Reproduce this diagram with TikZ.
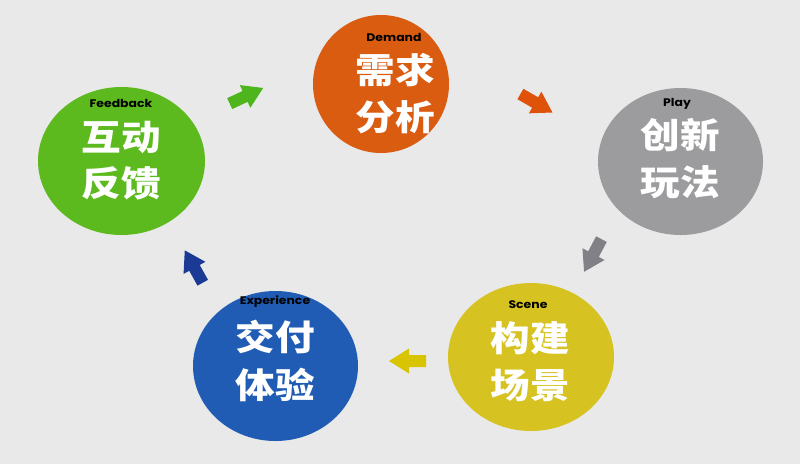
\documentclass[tikz,border=0pt]{standalone}
\usepackage{fontspec}
\newfontfamily\cjk{Noto Sans CJK SC}
\newfontfamily\enfont{Poppins}
\usetikzlibrary{shapes.geometric}
\definecolor{bgc}{RGB}{233,233,233}
\definecolor{cgreen}{RGB}{92,186,30}
\definecolor{corange}{RGB}{217,92,16}
\definecolor{cgray}{RGB}{156,156,159}
\definecolor{cyellow}{RGB}{214,194,32}
\definecolor{cblue}{RGB}{32,92,180}
\definecolor{agreen}{RGB}{78,182,28}
\definecolor{aorange}{RGB}{222,82,10}
\definecolor{agray}{RGB}{128,128,134}
\definecolor{ayellow}{RGB}{216,196,0}
\definecolor{ablue}{RGB}{26,58,150}
\tikzset{
  blob/.style={ellipse, inner sep=0pt, draw=none},
  entitle/.style={inner sep=0pt, font=\enfont\bfseries\fontsize{11}{11}\selectfont, text=black},
  cn/.style={inner sep=0pt, font=\cjk\bfseries\fontsize{35}{35}\selectfont, text=white}
}
\newcommand{\wx}[1]{\scalebox{1.13}[1]{#1}}
\newcommand{\fatarrow}[3]{% name, angle, colour
  \fill[#3, shift={(#1)}, rotate=#2]
    (19,0) -- (-1,12.5) -- (-1,6) -- (-18,6) -- (-18,-6) -- (-1,-6) -- (-1,-12.5) -- cycle;}
\begin{document}
\begin{tikzpicture}[x=1pt,y=-1pt]
\useasboundingbox (0,0) rectangle (800,464);
\fill[bgc] (0,0) rectangle (800,464);
% circles
\node[blob, fill=corange, minimum width=136pt, minimum height=138pt] (demand) at (381,84) {};
\node[blob, fill=cgray, minimum width=165pt, minimum height=147pt] (play) at (680.5,161.5) {};
\node[blob, fill=cyellow, minimum width=166pt, minimum height=148pt] (scene) at (531,357) {};
\node[blob, fill=cblue, minimum width=165pt, minimum height=150pt] (exper) at (275.5,366) {};
\node[blob, fill=cgreen, minimum width=167pt, minimum height=148pt] (feed) at (121.5,161) {};
% labels
\node[entitle] (tdemand) at (394,37) {\wx{Demand}};
\node[cn] (d1) at (395,70) {\wx{需求}};
\node[cn] (d2) at (395,117) {\wx{分析}};
\node[entitle] (tplay) at (677,104) {\wx{Play}};
\node[cn] (p1) at (680,135) {\wx{创新}};
\node[cn] (p2) at (680,182) {\wx{玩法}};
\node[entitle] (tscene) at (528,305) {\wx{Scene}};
\node[cn] (s1) at (530,338) {\wx{构建}};
\node[cn] (s2) at (530,385) {\wx{场景}};
\node[entitle] (texper) at (275,302) {\wx{Experience}};
\node[cn] (e1) at (275,337) {\wx{交付}};
\node[cn] (e2) at (275,385) {\wx{体验}};
\node[entitle] (tfeed) at (121,103) {\wx{Feedback}};
\node[cn] (f1) at (121,137) {\wx{互动}};
\node[cn] (f2) at (121,183) {\wx{反馈}};
% arrows
\coordinate (ar1) at (246,96);
\coordinate (ar2) at (536,103);
\coordinate (ar3) at (593,255);
\coordinate (ar4) at (408,361);
\coordinate (ar5) at (194,267);
\fatarrow{ar1}{25}{agreen}
\fatarrow{ar2}{-30}{aorange}
\fatarrow{ar3}{-118}{agray}
\fatarrow{ar4}{180}{ayellow}
\fatarrow{ar5}{119}{ablue}
\end{tikzpicture}
\end{document}
